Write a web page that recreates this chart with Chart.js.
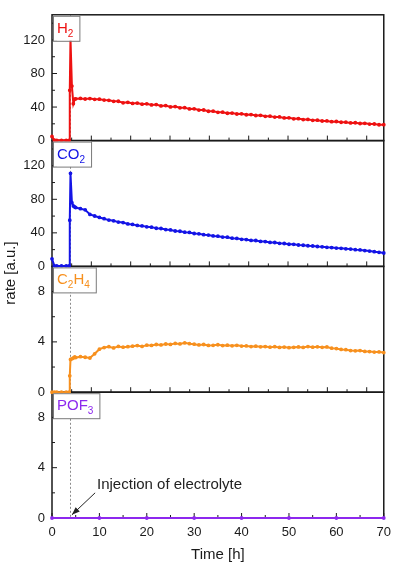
<!DOCTYPE html>
<html>
<head>
<meta charset="utf-8">
<script src="https://cdn.jsdelivr.net/npm/chart.js@4.4.1/dist/chart.umd.min.js"></script>
<style>
  html, body { margin: 0; padding: 0; background: #fff; }
  #wrap { width: 398px; height: 567px; position: relative; }
</style>
</head>
<body>
<div id="wrap"><canvas id="myChart"></canvas></div>
<script>
// time axis [h]
const timeH = [0, 0.5, 1, 2, 3, 3.6, 3.75, 3.9, 4.2, 4.5, 4.8,
  5, 6, 7, 8, 9, 10, 11, 12, 13, 14, 15, 16, 17, 18, 19, 20,
  21, 22, 23, 24, 25, 26, 27, 28, 29, 30, 31, 32, 33, 34, 35,
  36, 37, 38, 39, 40, 41, 42, 43, 44, 45, 46, 47, 48, 49, 50,
  51, 52, 53, 54, 55, 56, 57, 58, 59, 60, 61, 62, 63, 64, 65,
  66, 67, 68, 69, 70];

const h2Rate = [5, 0.4, 0.3, 0.3, 0.3, 0.3, 60, 122, 65, 44, 49.5,
  49.8, 50.3, 49.6, 50.1, 49.2, 49.4, 48.3, 48.0, 46.8, 46.9, 45.1, 45.6, 44.3, 44.7, 43.4, 43.8,
  42.5, 42.9, 41.4, 41.8, 40.2, 40.6, 39.1, 39.3, 37.8, 37.9, 36.4, 36.5, 35.0, 35.1, 33.7,
  33.9, 32.6, 32.8, 31.7, 31.9, 30.8, 31.0, 29.9, 30.1, 29.0, 29.1, 28.0, 28.2, 27.0, 27.2,
  26.0, 26.2, 25.1, 25.3, 24.2, 24.3, 23.4, 23.5, 22.6, 22.8, 21.9, 22.0, 21.1, 21.3, 20.4,
  20.6, 19.7, 19.8, 18.9, 19.0];

const co2Rate = [9, 0.6, 0.5, 0.5, 0.5, 0.5, 55, 111, 76, 72, 70.8,
  70.2, 68.8, 67.5, 62.0, 60.1, 58.4, 56.9, 55.2, 54.4, 52.8, 52.3, 50.6, 50.1, 48.8, 48.3, 47.2,
  46.8, 45.5, 45.2, 43.9, 43.5, 42.2, 41.9, 40.8, 40.5, 39.2, 38.9, 37.8, 37.4, 36.3, 36.0,
  35.0, 34.8, 33.6, 33.4, 32.3, 32.0, 31.0, 30.9, 29.8, 29.6, 28.6, 28.5, 27.5, 27.3, 26.4,
  26.3, 25.5, 25.2, 24.6, 24.3, 23.7, 23.4, 22.8, 22.5, 21.9, 21.5, 21.0, 20.6, 20.0, 19.6,
  18.9, 18.3, 17.5, 16.8, 16.0];

const c2h4Rate = [0, 0, 0, 0, 0, 0, 1.3, 2.6, 2.65, 2.72, 2.8,
  2.75, 2.82, 2.78, 2.72, 3.05, 3.42, 3.55, 3.62, 3.52, 3.64, 3.58, 3.62, 3.66, 3.71, 3.64, 3.74,
  3.72, 3.79, 3.76, 3.83, 3.80, 3.88, 3.84, 3.92, 3.86, 3.82, 3.76, 3.79, 3.72, 3.73, 3.77,
  3.71, 3.74, 3.69, 3.73, 3.67, 3.68, 3.63, 3.66, 3.61, 3.63, 3.58, 3.62, 3.56, 3.59, 3.54,
  3.57, 3.60, 3.56, 3.63, 3.58, 3.61, 3.57, 3.60, 3.50, 3.47, 3.40, 3.38, 3.31, 3.29, 3.31,
  3.24, 3.23, 3.19, 3.20, 3.15];

const pof3Time = [0, 10, 20, 30, 40, 50, 60, 70];
const pof3Rate = [0, 0, 0, 0, 0, 0, 0, 0];

const injectionH = 3.7;

// ticks
const xMajor = [0, 10, 20, 30, 40, 50, 60, 70];
const xMinor = [5, 15, 25, 35, 45, 55, 65];
const upperMajor = [8.3, 16.6, 24.9, 33.2, 41.5, 49.8, 58.1, 66.4];
const upperMinor = [4.15, 12.45, 20.75, 29.05, 37.35, 45.65, 53.95, 62.25];
const bigMajor = [0, 40, 80, 120];
const bigMinor = [20, 60, 100, 140];
const smallMajor = [0, 4, 8];
const smallMinor = [2, 6];

const FONT = "'Liberation Sans', Arial, sans-serif";
const INK = '#1a1a1a';

// top to bottom
const panels = [
  { id: 'yH2', label: [['H', 0], ['2', 1]], color: '#ee1111', major: bigMajor, minor: bigMinor },
  { id: 'yCO2', label: [['CO', 0], ['2', 1]], color: '#1414e6', major: bigMajor, minor: bigMinor },
  { id: 'yC2H4', label: [['C', 0], ['2', 1], ['H', 0], ['4', 1]], color: '#f7901e', major: smallMajor, minor: smallMinor },
  { id: 'yPOF3', label: [['POF', 0], ['3', 1]], color: '#8d28ee', major: smallMajor, minor: smallMinor }
];

function pts(xs, ys) {
  return xs.map((t, i) => ({ x: t, y: ys[i] }));
}

function seg(ctx, x1, y1, x2, y2) {
  ctx.beginPath();
  ctx.moveTo(x1, y1);
  ctx.lineTo(x2, y2);
  ctx.stroke();
}

function yAxis(id, max, ticks) {
  return {
    type: 'linear',
    position: 'left',
    stack: 'panels',
    stackWeight: 1,
    min: 0,
    max: max,
    afterBuildTicks: s => { s.ticks = ticks.map(v => ({ value: v })); },
    afterFit: s => { s.width = 52; },
    grid: { display: false, drawTicks: false },
    border: { display: false },
    ticks: { color: INK, font: { family: FONT, size: 13 }, padding: 7 }
  };
}

const frames = {
  id: 'frames',
  beforeDatasetsDraw(chart) {
    const { ctx, chartArea: a, scales } = chart;
    const x = scales.x;
    ctx.save();
    const xi = Math.round(x.getPixelForValue(injectionH)) + 0.5;
    ctx.strokeStyle = '#8a8a8a';
    ctx.lineWidth = 1;
    ctx.setLineDash([2, 2]);
    seg(ctx, xi, a.top, xi, a.bottom);
    ctx.setLineDash([]);

    ctx.strokeStyle = INK;
    panels.forEach((p, i) => {
      const s = scales[p.id];
      ctx.lineWidth = 1.5;
      ctx.strokeRect(a.left, s.top, a.right - a.left, s.bottom - s.top);
      ctx.lineWidth = 1;
      p.major.forEach(v => { const py = s.getPixelForValue(v); seg(ctx, a.left, py, a.left + 5, py); });
      p.minor.forEach(v => { const py = s.getPixelForValue(v); seg(ctx, a.left, py, a.left + 3, py); });
      const last = i === panels.length - 1;
      (last ? xMajor : upperMajor).forEach(v => { const px = x.getPixelForValue(v); seg(ctx, px, s.bottom, px, s.bottom - 5); });
      (last ? xMinor : upperMinor).forEach(v => { const px = x.getPixelForValue(v); seg(ctx, px, s.bottom, px, s.bottom - 3); });
    });
    ctx.restore();
  },
  afterDatasetsDraw(chart) {
    const { ctx, chartArea: a, scales } = chart;
    const x = scales.x;
    ctx.save();

    // label boxes
    panels.forEach(p => {
      const s = scales[p.id];
      let w = 0;
      p.label.forEach(([t, sub]) => {
        ctx.font = (sub ? '10px ' : '15px ') + FONT;
        w += ctx.measureText(t).width;
      });
      const bx = a.left + 1, by = s.top + 1, bw = w + 10, bh = 25;
      ctx.fillStyle = '#fff';
      ctx.fillRect(bx, by, bw, bh);
      ctx.strokeStyle = '#7a7a7a';
      ctx.lineWidth = 1;
      ctx.strokeRect(bx + 0.5, by + 0.5, bw, bh);
      let tx = bx + 4;
      ctx.fillStyle = p.color;
      ctx.textBaseline = 'alphabetic';
      p.label.forEach(([t, sub]) => {
        ctx.font = (sub ? '10px ' : '15px ') + FONT;
        ctx.fillText(t, tx, by + 17 + (sub ? 4 : 0));
        tx += ctx.measureText(t).width;
      });
    });

    // annotation
    const yp = scales.yPOF3;
    ctx.fillStyle = '#222';
    ctx.font = '15px ' + FONT;
    ctx.textBaseline = 'middle';
    ctx.fillText('Injection of electrolyte', x.getPixelForValue(9.5), yp.getPixelForValue(2.6));
    const x1 = x.getPixelForValue(9.1), y1 = yp.getPixelForValue(2.0);
    const x2 = x.getPixelForValue(4.2), y2 = yp.getPixelForValue(0.25);
    ctx.strokeStyle = '#222';
    ctx.lineWidth = 1;
    seg(ctx, x1, y1, x2, y2);
    const ang = Math.atan2(y2 - y1, x2 - x1);
    ctx.beginPath();
    ctx.moveTo(x2, y2);
    ctx.lineTo(x2 - 8 * Math.cos(ang) + 3 * Math.sin(ang), y2 - 8 * Math.sin(ang) - 3 * Math.cos(ang));
    ctx.lineTo(x2 - 8 * Math.cos(ang) - 3 * Math.sin(ang), y2 - 8 * Math.sin(ang) + 3 * Math.cos(ang));
    ctx.closePath();
    ctx.fill();

    // axis titles
    ctx.fillStyle = INK;
    ctx.font = '15px ' + FONT;
    ctx.textAlign = 'center';
    ctx.textBaseline = 'alphabetic';
    ctx.fillText('Time [h]', (a.left + a.right) / 2, 559);
    ctx.translate(15, 273);
    ctx.rotate(-Math.PI / 2);
    ctx.fillText('rate [a.u.]', 0, 0);
    ctx.restore();
  }
};

function lineSet(label, data, color, axis) {
  return {
    label: label,
    data: data,
    yAxisID: axis,
    borderColor: color,
    backgroundColor: color,
    borderWidth: 2,
    pointRadius: 0.9,
    pointHoverRadius: 0,
    tension: 0,
    clip: 3
  };
}

const ctx = document.getElementById('myChart').getContext('2d');
const myChart = new Chart(ctx, {
  type: 'line',
  data: {
    datasets: [
      lineSet('H2', pts(timeH, h2Rate), panels[0].color, 'yH2'),
      lineSet('CO2', pts(timeH, co2Rate), panels[1].color, 'yCO2'),
      lineSet('C2H4', pts(timeH, c2h4Rate), panels[2].color, 'yC2H4'),
      lineSet('POF3', pts(pof3Time, pof3Rate), panels[3].color, 'yPOF3')
    ]
  },
  options: {
    responsive: true,
    maintainAspectRatio: false,
    animation: false,
    layout: { padding: { top: 3, right: 8, bottom: 0, left: 0 } },
    plugins: { legend: { display: false }, tooltip: { enabled: false } },
    scales: {
      x: {
        type: 'linear',
        min: 0,
        max: 70,
        afterBuildTicks: s => { s.ticks = xMajor.map(v => ({ value: v })); },
        afterFit: s => { s.height = 49; },
        grid: { display: false, drawTicks: false },
        border: { display: false },
        ticks: { color: INK, font: { family: FONT, size: 13 }, padding: 7, maxRotation: 0 }
      },
      // listed bottom to top: Chart.js stacks the last left axis on top
      yPOF3: yAxis('yPOF3', 10, smallMajor),
      yC2H4: yAxis('yC2H4', 10, smallMajor),
      yCO2: yAxis('yCO2', 150, bigMajor),
      yH2: yAxis('yH2', 150, bigMajor)
    }
  },
  plugins: [frames]
});
</script>
</body>
</html>
